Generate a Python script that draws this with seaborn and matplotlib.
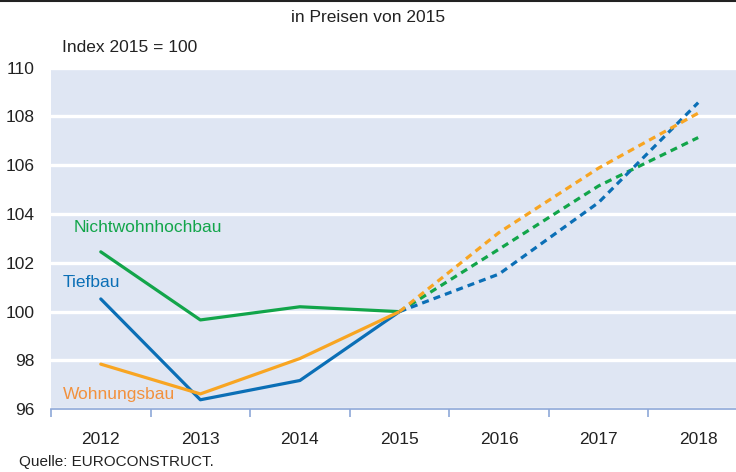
import matplotlib
matplotlib.use('Agg')
import matplotlib.pyplot as plt
import seaborn as sns
import pandas as pd

# Data (index 2015 = 100)
years = [2012, 2013, 2014, 2015, 2016, 2017, 2018]
tiefbau = [100.52, 96.39, 97.18, 100.0, 101.54, 104.47, 108.56]
wohnungsbau = [97.85, 96.63, 98.08, 100.0, 103.24, 105.88, 108.13]
nichtwohnhochbau = [102.45, 99.66, 100.2, 100.0, 102.56, 105.15, 107.13]
last_actual = 2015

series = {
    'Nichtwohnhochbau': nichtwohnhochbau,
    'Tiefbau': tiefbau,
    'Wohnungsbau': wohnungsbau,
}
line_colors = {'Nichtwohnhochbau': '#12a54a', 'Tiefbau': '#0b6fb6', 'Wohnungsbau': '#f8a522'}
label_colors = {'Nichtwohnhochbau': '#12a54a', 'Tiefbau': '#0b6fb6', 'Wohnungsbau': '#f2913d'}

rows = []
for name, vals in series.items():
    for i, (y, v) in enumerate(zip(years, vals)):
        rows.append({'pos': i, 'year': y, 'value': v, 'series': name})
df = pd.DataFrame(rows)

sns.set_theme(style='white')
plt.rcParams['font.family'] = ['Liberation Sans', 'DejaVu Sans']

fig = plt.figure(figsize=(7.36, 4.72), dpi=100)
ax = fig.add_axes([51 / 736, 1 - 409.3 / 472, 1 - 51 / 736, (409.3 - 67.5) / 472])
ax.set_facecolor('#dfe6f3')

# actual values solid, forecast dashed
split = years.index(last_actual)
solid = df[df['pos'] <= split]
dashed = df[df['pos'] >= split]
sns.lineplot(data=solid, x='pos', y='value', hue='series', palette=line_colors,
             linewidth=2.3, legend=False, ax=ax, sort=True)
sns.lineplot(data=dashed, x='pos', y='value', hue='series', palette=line_colors,
             linewidth=2.3, legend=False, ax=ax, sort=True)
for line in ax.lines[3:]:
    line.set_dashes((2.2, 1.6))

ax.set_xlim(-0.5, len(years) - 1 + 0.38)
ax.set_ylim(96, 110)
ax.set_yticks(range(96, 111, 2))
ax.set_xticks(range(len(years)))
ax.set_xticklabels([str(y) for y in years])
ax.set_xlabel('')
ax.set_ylabel('')

ax.grid(axis='y', color='white', linewidth=2.4)
ax.set_axisbelow(True)
for s in ['top', 'right', 'left']:
    ax.spines[s].set_visible(False)
ax.spines['bottom'].set_color('#8ea8d8')
ax.spines['bottom'].set_linewidth(1.2)

ax.tick_params(axis='y', length=0, labelsize=12.5, pad=12, colors='#222222')
ax.tick_params(axis='x', which='major', length=0, labelsize=12.5, pad=16, colors='#222222')
ax.set_xticks([i + 0.5 for i in range(-1, len(years) - 1)], minor=True)
ax.tick_params(axis='x', which='minor', bottom=True, length=6, width=1.2,
               color='#8ea8d8', direction='out')

# Series labels
ax.text(-0.27, 103.45, 'Nichtwohnhochbau', color=label_colors['Nichtwohnhochbau'], fontsize=12.5, va='center')
ax.text(-0.38, 101.2, 'Tiefbau', color=label_colors['Tiefbau'], fontsize=12.5, va='center')
ax.text(-0.38, 96.6, 'Wohnungsbau', color=label_colors['Wohnungsbau'], fontsize=12.5, va='center')

fig.text(0.5, 1 - 18 / 472, 'in Preisen von 2015', ha='center', va='center', fontsize=12.5, color='#222222')
fig.text(62 / 736, 1 - 47 / 472, 'Index 2015 = 100', ha='left', va='center', fontsize=12.5, color='#222222')
fig.text(19 / 736, 1 - 462 / 472, 'Quelle: EUROCONSTRUCT.', ha='left', va='center', fontsize=11, color='#222222')

# Thin rule along the top edge
fig.add_artist(plt.Line2D([0, 1], [0.998, 0.998], color='#222222', linewidth=1.5, transform=fig.transFigure))

fig.savefig('out.png', dpi=100)
